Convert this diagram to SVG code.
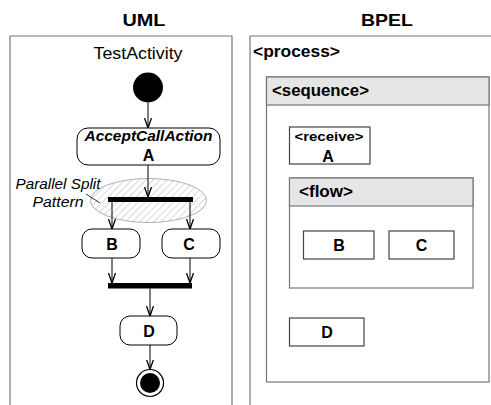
<svg xmlns="http://www.w3.org/2000/svg" width="491" height="405" viewBox="0 0 491 405">
  <style>
    text { font-family: "Liberation Sans", Arial, sans-serif; fill: #000; }
    .title { font-size: 17px; font-weight: bold; text-anchor: middle; }
    .lbl { font-size: 16px; font-weight: bold; text-anchor: middle; }
    .tag { font-size: 16px; font-weight: bold; }
    .frame { fill: none; stroke: #777; stroke-width: 1.2; }
    .action { fill: #fff; stroke: #000; stroke-width: 1; }
    .bar { fill: #000; }
    .flow { fill: none; stroke: #000; stroke-width: 1; marker-end: url(#open); }
    .bbox { fill: #fff; stroke: #444; stroke-width: 1.2; }
    .ctr { fill: #fff; stroke: #777; stroke-width: 1.2; }
    .hdr { fill: #e6e6e6; stroke: #777; stroke-width: 1.2; }
  </style>
  <defs>
    <marker id="open" viewBox="0 0 10 8" refX="10" refY="4" markerWidth="10" markerHeight="8" markerUnits="userSpaceOnUse" orient="auto">
      <path d="M0,0.5 L10,4 L0,7.5" fill="none" stroke="#000" stroke-width="1.3"/>
    </marker>
    <pattern id="hatch" patternUnits="userSpaceOnUse" width="5" height="5" patternTransform="rotate(45)">
      <line x1="0" y1="0" x2="0" y2="5" stroke="#a8a8a8" stroke-width="0.9"/>
    </pattern>
  </defs>

  <!-- column titles -->
  <text class="title" x="144" y="26" textLength="43" lengthAdjust="spacingAndGlyphs">UML</text>
  <text class="title" x="387" y="26" textLength="52" lengthAdjust="spacingAndGlyphs">BPEL</text>

  <!-- UML activity frame -->
  <g id="uml-frame">
    <path class="frame" d="M10,405 V36 H232 V405"/>
    <text x="138" y="59" font-size="17" text-anchor="middle" textLength="89" lengthAdjust="spacingAndGlyphs">TestActivity</text>
  </g>

  <!-- parallel split pattern annotation -->
  <g id="split-pattern">
    <ellipse cx="148.5" cy="200.5" rx="58" ry="22" fill="#fff"/>
    <ellipse cx="148.5" cy="200.5" rx="58" ry="22" fill="url(#hatch)" stroke="#b0b0b0" stroke-width="1"/>
    <text x="58" y="189" font-size="14" font-style="italic" text-anchor="middle" textLength="85" lengthAdjust="spacingAndGlyphs">Parallel Split</text>
    <text x="58" y="207" font-size="14" font-style="italic" text-anchor="middle" textLength="51" lengthAdjust="spacingAndGlyphs">Pattern</text>
    <line x1="86" y1="194" x2="100" y2="203" stroke="#000" stroke-width="0.8"/>
  </g>

  <g id="initial">
    <circle cx="148" cy="87.5" r="15" fill="#000"/>
  </g>

  <g id="node-a">
    <rect class="action" x="77" y="128" width="143" height="37" rx="11"/>
    <text x="148.5" y="141" font-size="15" font-weight="bold" font-style="italic" text-anchor="middle" textLength="128" lengthAdjust="spacingAndGlyphs">AcceptCallAction</text>
    <text class="lbl" x="148.5" y="161">A</text>
  </g>

  <g id="fork">
    <rect class="bar" x="108" y="197" width="85" height="5"/>
  </g>

  <g id="node-b">
    <rect class="action" x="82" y="229" width="58" height="29" rx="10"/>
    <text class="lbl" x="112" y="250">B</text>
  </g>

  <g id="node-c">
    <rect class="action" x="162" y="229" width="58" height="29" rx="10"/>
    <text class="lbl" x="189" y="250">C</text>
  </g>

  <g id="join">
    <rect class="bar" x="108" y="283" width="84" height="5.5"/>
  </g>

  <g id="node-d">
    <rect class="action" x="120" y="316" width="57" height="29" rx="10"/>
    <text class="lbl" x="149" y="337">D</text>
  </g>

  <g id="final">
    <circle cx="150" cy="383" r="13.5" fill="#fff" stroke="#000" stroke-width="1.2"/>
    <circle cx="150" cy="383" r="10" fill="#000"/>
  </g>

  <!-- control flows -->
  <g id="connectors">
    <line class="flow" x1="148" y1="102.5" x2="148" y2="128"/>
    <line class="flow" x1="148" y1="165" x2="148" y2="197"/>
    <line class="flow" x1="112" y1="202" x2="112" y2="229"/>
    <line class="flow" x1="190" y1="202" x2="190" y2="229"/>
    <line class="flow" x1="112" y1="258" x2="112" y2="283"/>
    <line class="flow" x1="190" y1="258" x2="190" y2="283"/>
    <line class="flow" x1="150" y1="288.5" x2="150" y2="316"/>
    <line class="flow" x1="150" y1="345" x2="150" y2="369.5"/>
  </g>

  <!-- BPEL structure -->
  <g id="process">
    <path class="frame" d="M250,405 V36 H491"/>
    <text class="tag" x="253" y="57" textLength="87" lengthAdjust="spacingAndGlyphs">&lt;process&gt;</text>
  </g>

  <g id="sequence">
    <rect class="ctr" x="266.5" y="77" width="222.5" height="305"/>
    <rect class="hdr" x="266.5" y="77" width="222.5" height="28"/>
    <text class="tag" x="272" y="96" textLength="97" lengthAdjust="spacingAndGlyphs">&lt;sequence&gt;</text>
  </g>

  <g id="receive">
    <rect class="bbox" x="289.5" y="127" width="80.5" height="37"/>
    <text x="329" y="141" font-size="12" font-weight="bold" text-anchor="middle" textLength="69" lengthAdjust="spacingAndGlyphs">&lt;receive&gt;</text>
    <text class="lbl" x="328" y="162">A</text>
  </g>

  <g id="flow">
    <rect class="ctr" x="289.5" y="178" width="183.5" height="110"/>
    <rect class="hdr" x="289.5" y="178" width="183.5" height="28"/>
    <text class="tag" x="299" y="197" textLength="54" lengthAdjust="spacingAndGlyphs">&lt;flow&gt;</text>
  </g>

  <g id="bpel-b">
    <rect class="bbox" x="303.5" y="231" width="70.5" height="28"/>
    <text class="lbl" x="339" y="251">B</text>
  </g>

  <g id="bpel-c">
    <rect class="bbox" x="389" y="231" width="65" height="28"/>
    <text class="lbl" x="421.5" y="251">C</text>
  </g>

  <g id="bpel-d">
    <rect class="bbox" x="289.5" y="318" width="74.5" height="28"/>
    <text class="lbl" x="327" y="338">D</text>
  </g>
</svg>
